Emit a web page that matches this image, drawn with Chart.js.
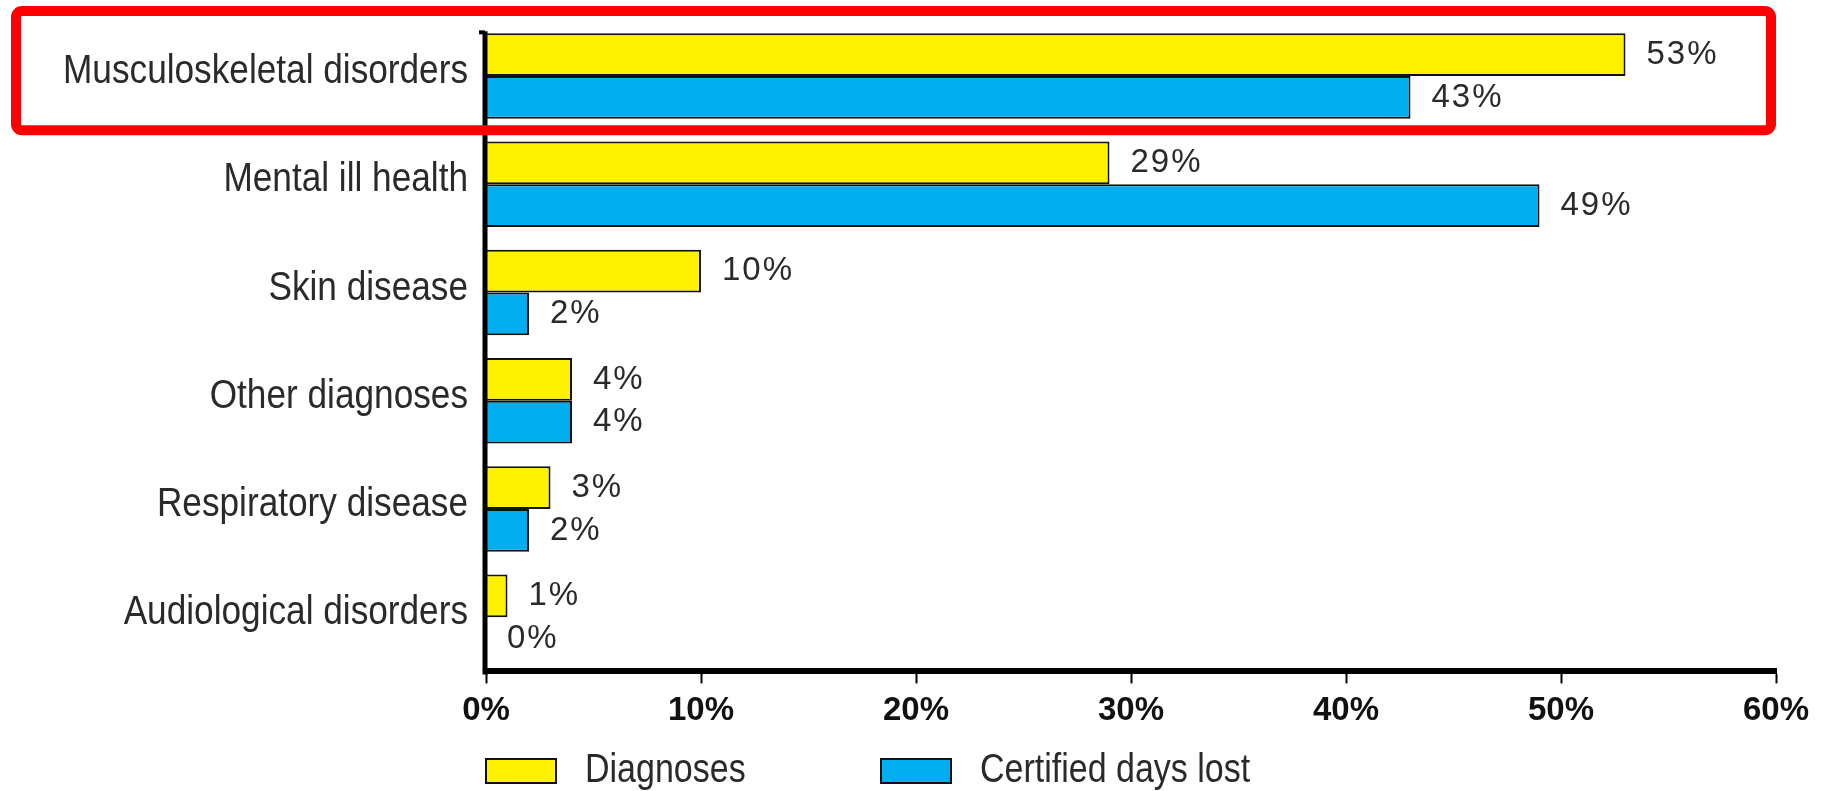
<!DOCTYPE html>
<html>
<head>
<meta charset="utf-8">
<title>Work-related ill health by type</title>
<script src="https://cdn.jsdelivr.net/npm/chart.js@4.4.1/dist/chart.umd.min.js"></script>
<style>
  html, body { margin: 0; padding: 0; background: #fff; }
</style>
</head>
<body>
<canvas id="illHealthChart" width="1824" height="791"></canvas>
<script>
const categories = [
  'Musculoskeletal disorders',
  'Mental ill health',
  'Skin disease',
  'Other diagnoses',
  'Respiratory disease',
  'Audiological disorders'
];
const diagnoses = [53, 29, 10, 4, 3, 1];
const daysLost = [43, 49, 2, 4, 2, 0];
const xTicks = [0, 10, 20, 30, 40, 50, 60];

const SANS = "'Liberation Sans', Arial, sans-serif";
const NARROW_X = 0.88;   // horizontal squeeze for the condensed-looking labels

// draw text squeezed horizontally around its anchor point
function narrowText(ctx, text, x, y, sx) {
  ctx.save();
  ctx.translate(x, y);
  ctx.scale(sx, 1);
  ctx.fillText(text, 0, 0);
  ctx.restore();
}

// category names on the left of the vertical axis
const categoryLabels = {
  id: 'categoryLabels',
  afterDraw(chart) {
    const { ctx, chartArea, scales } = chart;
    ctx.save();
    ctx.font = '40px ' + SANS;
    ctx.fillStyle = '#2a2a2a';
    ctx.textAlign = 'right';
    ctx.textBaseline = 'alphabetic';
    chart.data.labels.forEach((label, i) => {
      narrowText(ctx, label, chartArea.left - 18, scales.y.getPixelForValue(i) + 7, NARROW_X);
    });
    ctx.restore();
  }
};

// percentage printed just past the end of every bar
const valueLabels = {
  id: 'valueLabels',
  afterDatasetsDraw(chart) {
    const ctx = chart.ctx;
    ctx.save();
    ctx.font = '33px ' + SANS;
    ctx.letterSpacing = '2px';
    ctx.fillStyle = '#2a2a2a';
    ctx.textBaseline = 'middle';
    chart.data.datasets.forEach((ds, i) => {
      chart.getDatasetMeta(i).data.forEach((bar, j) => {
        ctx.fillText(ds.data[j] + '%', bar.x + 21, bar.y);
      });
    });
    ctx.restore();
  }
};

// vertical axis line, starting at the top of the first bar
const axisLine = {
  id: 'axisLine',
  afterDatasetsDraw(chart) {
    const { ctx, chartArea } = chart;
    const first = chart.getDatasetMeta(0).data[0];
    const top = first.y - first.height / 2 - 2;
    ctx.save();
    ctx.strokeStyle = '#000';
    ctx.lineWidth = 5;
    ctx.beginPath();
    ctx.moveTo(chartArea.left - 1, top);
    ctx.lineTo(chartArea.left - 1, chartArea.bottom + 3);
    ctx.stroke();
    ctx.fillStyle = '#000';
    ctx.fillRect(chartArea.left - 7, top - 1, 6, 4);
    ctx.restore();
  }
};

// red frame around the first category
const highlight = {
  id: 'highlight',
  afterDraw(chart) {
    const { ctx, chartArea, scales } = chart;
    const y = scales.y;
    const band = y.getPixelForValue(1) - y.getPixelForValue(0);
    const top = chartArea.top - 11;
    const bottom = y.getPixelForValue(0) + band / 2;
    ctx.save();
    ctx.strokeStyle = '#ff0000';
    ctx.lineWidth = 10;
    ctx.beginPath();
    ctx.roundRect(16, top, chartArea.right - 5 - 16, bottom - top, 6);
    ctx.stroke();
    ctx.restore();
  }
};

// legend row under the axis, aligned with the plot's left edge
const legendBelow = {
  id: 'legendBelow',
  afterDraw(chart) {
    const { ctx, chartArea } = chart;
    const slots = [chartArea.left, chartArea.left + 395];
    const y = chart.height - 32;
    ctx.save();
    ctx.font = '40px ' + SANS;
    ctx.textBaseline = 'alphabetic';
    chart.data.datasets.forEach((ds, i) => {
      const x = slots[i];
      ctx.fillStyle = ds.backgroundColor;
      ctx.fillRect(x, y, 70, 24);
      ctx.lineWidth = 2;
      ctx.strokeStyle = '#111';
      ctx.strokeRect(x, y, 70, 24);
      ctx.fillStyle = '#2a2a2a';
      narrowText(ctx, ds.label, x + 99, y + 23, 0.85);
    });
    ctx.restore();
  }
};

new Chart(document.getElementById('illHealthChart'), {
  type: 'bar',
  data: {
    labels: categories,
    datasets: [
      {
        label: 'Diagnoses',
        data: diagnoses,
        backgroundColor: '#fff200',
        borderColor: '#111',
        borderWidth: 2,
        barPercentage: 1,
        categoryPercentage: 0.79
      },
      {
        label: 'Certified days lost',
        data: daysLost,
        backgroundColor: '#00aeef',
        borderColor: '#111',
        borderWidth: 2,
        barPercentage: 1,
        categoryPercentage: 0.79
      }
    ]
  },
  options: {
    indexAxis: 'y',
    responsive: false,
    animation: false,
    layout: { padding: { top: 22, right: 48, bottom: 52, left: 0 } },
    plugins: {
      legend: { display: false },
      tooltip: { enabled: false }
    },
    scales: {
      x: {
        min: 0,
        max: 60,
        afterBuildTicks: (scale) => { scale.ticks = xTicks.map(v => ({ value: v })); },
        ticks: {
          callback: (v) => v + '%',
          font: { family: SANS, size: 33, weight: 'bold' },
          color: '#111',
          padding: 8,
          maxRotation: 0
        },
        grid: {
          drawOnChartArea: false,
          drawTicks: true,
          tickLength: 12,
          tickWidth: 2,
          tickColor: '#000'
        },
        border: { display: true, width: 6, color: '#000' }
      },
      y: {
        grid: { display: false, drawTicks: false },
        border: { display: false },
        ticks: { display: false },
        afterFit: (scale) => { scale.width = 486; }
      }
    }
  },
  plugins: [axisLine, valueLabels, categoryLabels, highlight, legendBelow]
});
</script>
</body>
</html>
